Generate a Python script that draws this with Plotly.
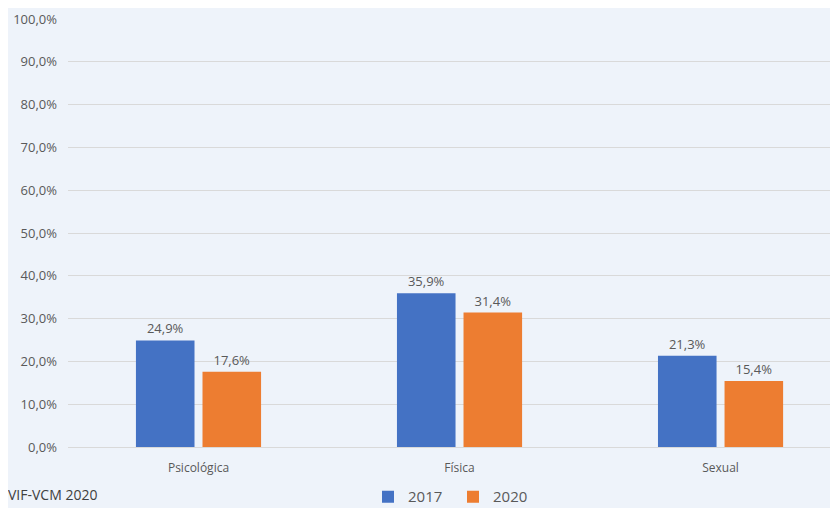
import plotly.graph_objects as go

categories = ["Psicológica", "Física", "Sexual"]
series_names = ["2017", "2020"]
values_2017 = [24.9, 35.9, 21.3]
values_2020 = [17.6, 31.4, 15.4]
y_ticks = [0, 10, 20, 30, 40, 50, 60, 70, 80, 90, 100]
source_note = "VIF-VCM 2020"

colors = ["#4472c4", "#ed7d31"]
bg = "#eef3fa"
txt = "#595959"


def lbl(v):
    return ("%.1f%%" % v).replace(".", ",")


fig = go.Figure()
for name, vals, c in zip(series_names, [values_2017, values_2020], colors):
    fig.add_trace(go.Bar(
        x=categories, y=vals, name=name,
        marker=dict(color=c, line=dict(width=0)),
        text=[lbl(v) for v in vals], textposition="outside",
        textfont=dict(size=13, color=txt), cliponaxis=False,
    ))

# page has an 8px body margin, so the figure is 830x500 and shifted
fig.update_layout(
    width=830, height=500,
    paper_bgcolor=bg, plot_bgcolor=bg,
    font=dict(family="Open Sans", color=txt, size=12),
    margin=dict(l=60, r=0, t=11, b=61, autoexpand=False),
    barmode="group", bargap=0.49, bargroupgap=0.12,
    separators=",.",
    showlegend=True,
    legend=dict(orientation="h", x=0.5, xanchor="center", y=-0.078, yanchor="top",
                font=dict(size=15, color=txt), itemwidth=30, traceorder="normal",
                entrywidth=40, entrywidthmode="pixels"),
    annotations=[dict(text=source_note, xref="paper", yref="paper", x=-0.08, y=-0.138,
                      xanchor="left", yanchor="bottom", showarrow=False,
                      font=dict(size=14, color="#404040"))],
)
fig.update_xaxes(range=[-0.5, 2.45], showgrid=False, ticks="", showline=False,
                 tickfont=dict(size=12, color=txt), ticklabelstandoff=12)
fig.update_yaxes(range=[0, 100], tickvals=y_ticks,
                 ticktext=[lbl(v) for v in y_ticks],
                 showgrid=True, gridcolor="#d9d9d9", gridwidth=1,
                 zeroline=True, zerolinecolor="#d9d9d9", zerolinewidth=1,
                 tickfont=dict(size=13, color=txt), ticks="", ticklabelstandoff=10)

fig.write_html("out.html")
